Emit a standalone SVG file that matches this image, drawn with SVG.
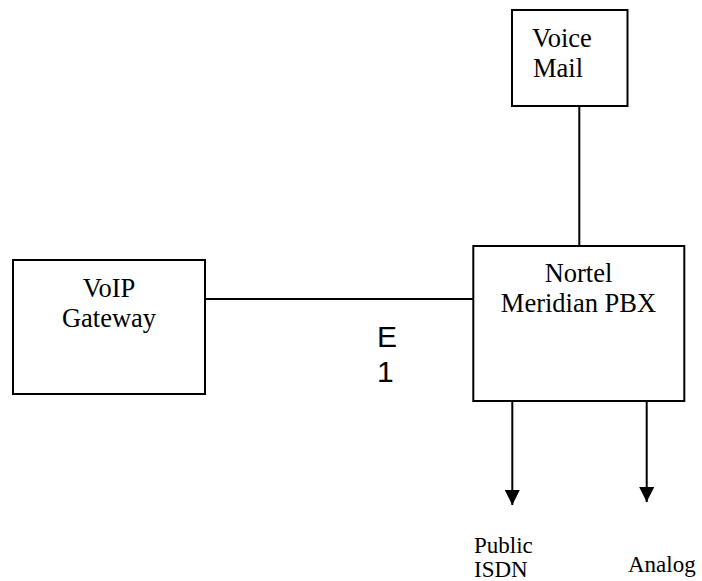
<svg xmlns="http://www.w3.org/2000/svg" width="702" height="581" viewBox="0 0 702 581">
<style>
.box{fill:#fff;stroke:#000;stroke-width:2}
.t{font-family:"Liberation Serif","Times New Roman",serif;font-size:26.5px;fill:#000}
.s{font-family:"Liberation Serif","Times New Roman",serif;font-size:23px;fill:#000}
.e{font-family:"Liberation Sans",Arial,sans-serif;font-size:30px;fill:#000}
.c{stroke:#000;stroke-width:2;fill:none}
</style>
<defs>
<marker id="ah" viewBox="0 0 15 15" refX="15" refY="7.5" markerWidth="15" markerHeight="15" markerUnits="userSpaceOnUse" orient="auto">
<path d="M0,0 L15,7.5 L0,15 Z" fill="#000"/>
</marker>
</defs>
<rect width="702" height="581" fill="#fff"/>
<g id="connectors">
<line class="c" x1="579.3" y1="106" x2="579.3" y2="246"/>
<line class="c" x1="205" y1="299" x2="473" y2="299"/>
<line class="c" x1="512.3" y1="401" x2="512.3" y2="505" marker-end="url(#ah)"/>
<line class="c" x1="646.7" y1="401" x2="646.7" y2="502" marker-end="url(#ah)"/>
</g>
<g id="voicemail">
<rect class="box" x="512" y="10" width="115.5" height="96"/>
<text class="t" x="532" y="46.7">Voice</text>
<text class="t" x="533" y="77.3">Mail</text>
</g>
<g id="voip">
<rect class="box" x="13" y="260" width="192" height="134"/>
<text class="t" x="109" y="296.7" text-anchor="middle">VoIP</text>
<text class="t" x="109" y="327" text-anchor="middle">Gateway</text>
</g>
<g id="pbx">
<rect class="box" x="473.3" y="246" width="211" height="155"/>
<text class="t" x="578.5" y="281.7" text-anchor="middle">Nortel</text>
<text class="t" x="578.5" y="311.7" text-anchor="middle">Meridian PBX</text>
</g>
<g id="e1label">
<text class="e" x="377" y="347">E</text>
<text class="e" x="377" y="382">1</text>
</g>
<g id="public">
<text class="s" x="474" y="553">Public</text>
<text class="s" x="474" y="577">ISDN</text>
</g>
<g id="analog">
<text class="s" x="628" y="571.7">Analog</text>
</g>
</svg>
